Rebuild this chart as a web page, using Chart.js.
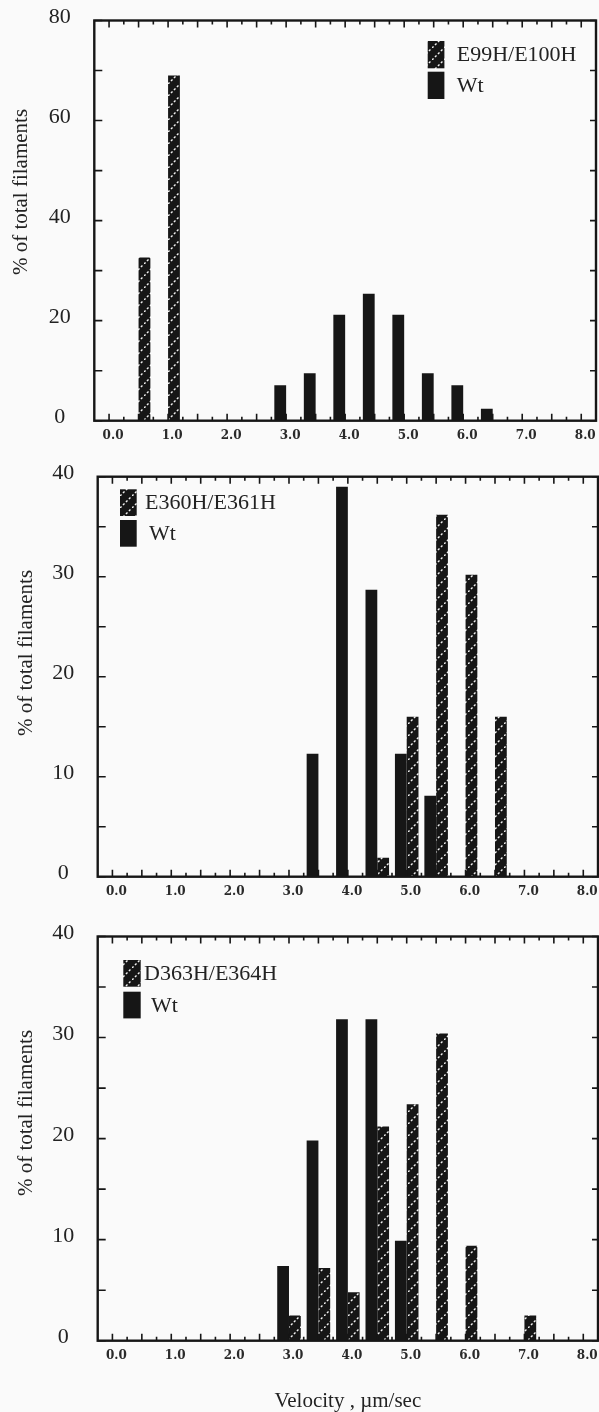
<!DOCTYPE html>
<html>
<head>
<meta charset="utf-8">
<script src="https://cdn.jsdelivr.net/npm/chart.js@4.4.1/dist/chart.umd.min.js"></script>
<style>
  body { margin: 0; background: #fafafa; width: 599px; height: 1412px; overflow: hidden; position: relative; }
  canvas { position: absolute; left: 0; }
</style>
</head>
<body>
<canvas id="p1" width="599" height="460" style="top:0"></canvas>
<canvas id="p2" width="599" height="460" style="top:460px"></canvas>
<canvas id="p3" width="599" height="492" style="top:920px"></canvas>
<script>
// Hodnoty odčítané z obrázku (% z celkového počtu filamentov)
const xTickValues = [0, 1, 2, 3, 4, 5, 6, 7, 8];
const wtName = 'Wt';

const p1Mutant = 'E99H/E100H';
const p1WtBins = [3.0, 3.5, 4.0, 4.5, 5.0, 5.5, 6.0, 6.5];
const p1WtValues = [7.1, 9.5, 21.2, 25.4, 21.2, 9.5, 7.1, 2.4];
const p1MutBins = [0.5, 1.0];
const p1MutValues = [32.6, 69.0];

const p2Mutant = 'E360H/E361H';
const p2WtBins = [3.5, 4.0, 4.5, 5.0, 5.5];
const p2WtValues = [12.3, 39.0, 28.7, 12.3, 8.1];
const p2MutBins = [4.5, 5.0, 5.5, 6.0, 6.5];
const p2MutValues = [1.9, 16.0, 36.2, 30.2, 16.0];

const p3Mutant = 'D363H/E364H';
const p3WtBins = [3.0, 3.5, 4.0, 4.5, 5.0];
const p3WtValues = [7.4, 19.8, 31.8, 31.8, 9.9];
const p3MutBins = [3.0, 3.5, 4.0, 4.5, 5.0, 5.5, 6.0, 7.0];
const p3MutValues = [2.5, 7.2, 4.8, 21.2, 23.4, 30.4, 9.4, 2.5];

const yTitle = '% of total filaments';
const xTitle = 'Velocity , \u00b5m/sec';

const INK = '#161616';
const TEXT = '#222';

// šrafovanie pre mutanty
function makeHatch() {
    const c = document.createElement('canvas');
    c.width = 12; c.height = 12;
    const g = c.getContext('2d');
    g.fillStyle = INK;
    g.fillRect(0, 0, 12, 12);
    g.strokeStyle = '#f2f2f2';
    g.lineWidth = 1.4;
    g.setLineDash([2.2, 2]);
    g.beginPath();
    g.moveTo(0, 12); g.lineTo(12, 0);
    g.stroke();
    return g.createPattern(c, 'repeat');
}
const hatch = makeHatch();

// rám s tickmi smerujúcimi dovnútra
const frameTicks = {
    id: 'frameTicks',
    afterDatasetsDraw(chart, args, opts) {
        const { ctx, chartArea: a, scales: { x, y } } = chart;
        ctx.save();
        ctx.strokeStyle = INK;
        ctx.lineWidth = 1.6;
        ctx.beginPath();
        for (let i = 0; i <= 32; i++) {
            const px = x.getPixelForValue(i * 0.25);
            const len = i % 2 === 0 ? 7 : 4;
            ctx.moveTo(px, a.bottom); ctx.lineTo(px, a.bottom - len);
            ctx.moveTo(px, a.top); ctx.lineTo(px, a.top + len);
        }
        for (let v = y.min; v <= y.max; v += opts.yMinor) {
            const py = y.getPixelForValue(v);
            ctx.moveTo(a.left, py); ctx.lineTo(a.left + 8, py);
            ctx.moveTo(a.right, py); ctx.lineTo(a.right - 6, py);
        }
        ctx.stroke();
        ctx.lineWidth = 2.4;
        ctx.strokeRect(a.left, a.top, a.right - a.left, a.bottom - a.top);
        ctx.restore();
    }
};

// legenda v grafe: mutant hore, Wt dole
const boxLegend = {
    id: 'boxLegend',
    afterDraw(chart, args, o) {
        const ctx = chart.ctx;
        const items = [chart.data.datasets[1], chart.data.datasets[0]];
        ctx.save();
        ctx.font = '22px "Liberation Serif", serif';
        ctx.textBaseline = 'middle';
        items.forEach((ds, i) => {
            const top = o.y + i * (o.h + o.gap);
            ctx.fillStyle = ds.backgroundColor;
            ctx.fillRect(o.x, top, o.w, o.h);
            ctx.fillStyle = TEXT;
            ctx.fillText(ds.label, o.textX[i], top + o.h / 2 + 1);
        });
        ctx.restore();
    }
};

// popis osi y (posunutý nahor ako v originále)
const yLabel = {
    id: 'yLabel',
    afterDraw(chart, args, o) {
        const ctx = chart.ctx;
        ctx.save();
        ctx.translate(o.x, o.y);
        ctx.rotate(-Math.PI / 2);
        ctx.font = '21px "Liberation Serif", serif';
        ctx.fillStyle = TEXT;
        ctx.textAlign = 'center';
        ctx.textBaseline = 'middle';
        ctx.fillText(yTitle, 0, 0);
        ctx.restore();
    }
};

function points(bins, values) {
    return bins.map((b, i) => ({ x: b, y: values[i] }));
}

function makePanel(id, p) {
    return new Chart(document.getElementById(id), {
        type: 'bar',
        data: {
            datasets: [
                { label: wtName, data: points(p.wtBins, p.wtValues), backgroundColor: INK, borderWidth: 0 },
                { label: p.mutant, data: points(p.mutBins, p.mutValues), backgroundColor: hatch, borderWidth: 0 }
            ]
        },
        plugins: [frameTicks, boxLegend, yLabel],
        options: {
            responsive: false,
            animation: false,
            events: [],
            categoryPercentage: 0.8,
            barPercentage: 1.0,
            layout: { padding: { top: p.padTop, right: p.padRight, left: 0, bottom: 0 } },
            scales: {
                x: {
                    type: 'linear',
                    min: -0.25,
                    max: 8.25,
                    offset: false,
                    grid: { display: false, drawTicks: false },
                    border: { display: false },
                    afterBuildTicks: s => { s.ticks = xTickValues.map(v => ({ value: v })); },
                    afterFit: s => {
                        s.height = p.xAxisH;
                        s.paddingLeft = 0;
                        s.paddingRight = 0;
                    },
                    ticks: {
                        autoSkip: false,
                        maxRotation: 0,
                        padding: 8,
                        labelOffset: 4,
                        color: '#2a2a2a',
                        font: { family: '"DejaVu Serif", serif', size: 12, weight: 'bold' },
                        callback: v => Number(v).toFixed(1)
                    },
                    title: {
                        display: !!p.xTitle,
                        text: xTitle,
                        color: TEXT,
                        padding: { top: 0, bottom: 0 },
                        font: { family: '"Liberation Serif", serif', size: 21, lineHeight: 1 }
                    }
                },
                y: {
                    min: 0,
                    max: p.yMax,
                    grid: { display: false, drawTicks: false },
                    border: { display: false },
                    afterFit: s => {
                        s.width = p.yAxisW;
                        s.paddingTop = 0;
                        s.paddingBottom = 0;
                    },
                    ticks: {
                        stepSize: p.yStep,
                        padding: 23.5,
                        crossAlign: 'center',
                        labelOffset: -3,
                        color: TEXT,
                        font: { family: '"Liberation Serif", serif', size: 22 }
                    }
                }
            },
            plugins: {
                legend: { display: false },
                tooltip: { enabled: false },
                frameTicks: { yMinor: p.yMinor },
                boxLegend: p.legend,
                yLabel: p.yLabelPos
            }
        }
    });
}

makePanel('p1', {
    mutant: p1Mutant, wtBins: p1WtBins, wtValues: p1WtValues, mutBins: p1MutBins, mutValues: p1MutValues,
    padTop: 20.5, padRight: 3, yAxisW: 94.3, xAxisH: 39.3,
    yMax: 80, yStep: 20, yMinor: 10,
    legend: { x: 427.7, y: 41, w: 16.7, h: 27.3, gap: 3.4, textX: [456.7, 456.7] },
    yLabelPos: { x: 21, y: 192 }
});

makePanel('p2', {
    mutant: p2Mutant, wtBins: p2WtBins, wtValues: p2WtValues, mutBins: p2MutBins, mutValues: p2MutValues,
    padTop: 16.7, padRight: 1, yAxisW: 97.7, xAxisH: 43.3,
    yMax: 40, yStep: 10, yMinor: 5,
    legend: { x: 120, y: 29.3, w: 16.7, h: 26.7, gap: 4, textX: [145, 149] },
    yLabelPos: { x: 26, y: 193 }
});

makePanel('p3', {
    mutant: p3Mutant, wtBins: p3WtBins, wtValues: p3WtValues, mutBins: p3MutBins, mutValues: p3MutValues,
    padTop: 16.5, padRight: 1, yAxisW: 97.7, xAxisH: 71.3,
    yMax: 40, yStep: 10, yMinor: 5,
    legend: { x: 123.3, y: 40, w: 17.4, h: 26.7, gap: 5, textX: [144, 151] },
    yLabelPos: { x: 26, y: 193 },
    xTitle: true
});
</script>
</body>
</html>
